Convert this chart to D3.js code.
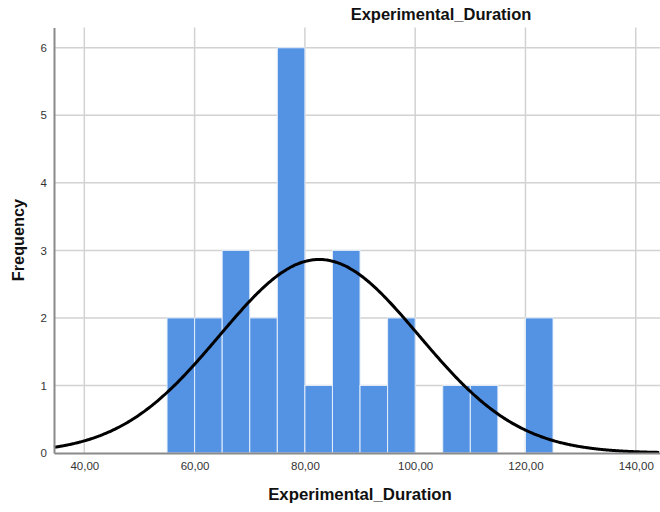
<!DOCTYPE html>
<html><head><meta charset="utf-8">
<script src="https://cdn.jsdelivr.net/npm/d3@7"></script>
<style>html,body{margin:0;padding:0;background:#fff;}svg{display:block;font-family:"Liberation Sans",Arial,sans-serif;}</style>
</head><body>
<svg id="c" width="660" height="512"></svg>
<script>
const binStarts = [55,60,65,70,75,80,85,90,95,100,105,110,115,120];
const binCounts = [2,2,3,2,6,1,3,1,2,0,1,1,0,2];
const binWidth = 5;
const xTicks = [40,60,80,100,120,140];
const xTickLabels = ["40,00","60,00","80,00","100,00","120,00","140,00"];
const yTicks = [0,1,2,3,4,5,6];
const fitMean = 82.6, fitSD = 18.1, fitN = 26;
const title = "Experimental_Duration";
const xLabel = "Experimental_Duration";
const yLabel = "Frequency";

const svg = d3.select("#c");
const x = d3.scaleLinear().domain([34.5,144.4]).range([54,660]);
const y = d3.scaleLinear().domain([0,6.3]).range([453,27.5]);

// grid
svg.append("g").selectAll("line.v").data(xTicks).join("line")
  .attr("x1",d=>x(d)).attr("x2",d=>x(d)).attr("y1",y(0)).attr("y2",y.range()[1])
  .attr("stroke","#d2d2d2").attr("stroke-width",1.5);
svg.append("g").selectAll("line.h").data(yTicks.slice(1)).join("line")
  .attr("x1",54).attr("x2",660).attr("y1",d=>y(d)).attr("y2",d=>y(d))
  .attr("stroke","#d2d2d2").attr("stroke-width",1.5);

// bars
const bins = binStarts.map((s,i)=>({x0:s,x1:s+binWidth,c:binCounts[i]})).filter(b=>b.c>0);
svg.append("g").selectAll("rect").data(bins).join("rect")
  .attr("x",d=>x(d.x0)).attr("width",d=>x(d.x1)-x(d.x0))
  .attr("y",d=>y(d.c)).attr("height",d=>y(0)-y(d.c))
  .attr("fill","#5493e3").attr("stroke","#e4eefb").attr("stroke-width",1);

// normal curve
const pdf = v => fitN*binWidth/(fitSD*Math.sqrt(2*Math.PI))*Math.exp(-0.5*((v-fitMean)/fitSD)**2);
const xs = d3.range(34.5,144.41,0.25);
svg.append("path").datum(xs)
  .attr("d", d3.line().x(d=>x(d)).y(d=>y(pdf(d))).curve(d3.curveBasis))
  .attr("fill","none").attr("stroke","#000").attr("stroke-width",3);

// axes
const xa = svg.append("g").attr("transform",`translate(0,${y(0)})`)
  .call(d3.axisBottom(x).tickValues(xTicks).tickFormat((d,i)=>xTickLabels[i]).tickSize(0).tickPadding(9));
xa.select(".domain").attr("stroke","#8a8a8a").attr("stroke-width",2);
xa.selectAll("text").attr("font-size",11.5).attr("fill","#333").attr("font-family","'Liberation Sans',Arial,sans-serif");
const ya = svg.append("g").attr("transform","translate(54,0)")
  .call(d3.axisLeft(y).tickValues(yTicks).tickFormat(d3.format("d")).tickSize(0).tickPadding(7));
ya.select(".domain").attr("stroke","#8a8a8a").attr("stroke-width",2);
ya.selectAll("text").attr("font-size",11.5).attr("fill","#333").attr("font-family","'Liberation Sans',Arial,sans-serif");

// labels
svg.append("text").attr("x",441).attr("y",20).attr("text-anchor","middle")
  .attr("font-size",16.5).attr("font-weight","bold").attr("fill","#111").text(title);
svg.append("text").attr("x",360).attr("y",500).attr("text-anchor","middle")
  .attr("font-size",16.8).attr("font-weight","bold").attr("fill","#111").text(xLabel);
svg.append("text").attr("transform","translate(24,240) rotate(-90)").attr("text-anchor","middle")
  .attr("font-size",16.3).attr("font-weight","bold").attr("fill","#111").text(yLabel);
</script>
</body></html>
